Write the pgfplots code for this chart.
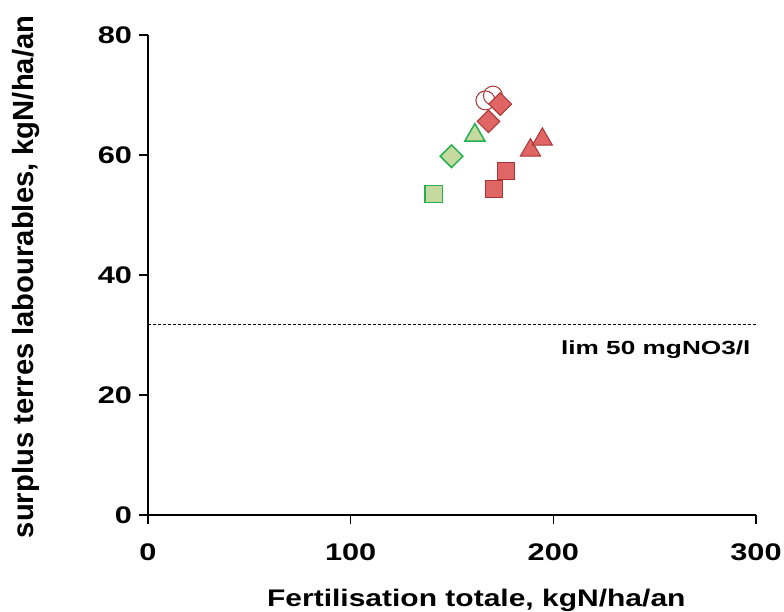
\documentclass[border=0pt]{standalone}
\usepackage{fontspec}
\setmainfont{Liberation Sans}
\usepackage{pgfplots}
\pgfplotsset{compat=1.18}
\definecolor{redfill}{RGB}{224,102,102}
\definecolor{rededge}{RGB}{168,52,52}
\definecolor{greenfill}{RGB}{198,217,158}
\definecolor{greenedge}{RGB}{36,176,80}
\newcommand{\hs}[1]{\scalebox{1.28}[1]{#1}}
\begin{document}
\begin{tikzpicture}
\begin{axis}[
  scale only axis,
  width=304pt, height=240pt,
  xmin=0, xmax=300, ymin=0, ymax=80,
  xtick={0,100,200,300}, ytick={0,20,40,60,80},
  axis lines*=left,
  axis line style={line width=0.65pt},
  tick style={line width=0.65pt, black},
  tick align=outside,
  major tick length=4.5pt,
  xtick pos=left, ytick pos=left,
  /pgf/number format/assume math mode=true,
  ticklabel style={font=\fontsize{12}{14}\selectfont\bfseries},
  xticklabel style={yshift=-6.5pt},
  xticklabel={\hs{\pgfmathprintnumber{\tick}}},
  yticklabel={\hs{\pgfmathprintnumber{\tick}}},
  xlabel={\scalebox{1.25}[1]{Fertilisation totale, kgN/ha/an}},
  ylabel={surplus terres labourables, kgN/ha/an},
  xlabel style={font=\fontsize{12}{14}\selectfont\bfseries,
    at={(axis description cs:0.54,0)}, anchor=base, yshift=-45.5pt},
  ylabel style={font=\fontsize{14.6}{16}\selectfont\bfseries,
    at={(axis description cs:-0.188,0.496)}, anchor=base},
  clip=false,
]
\coordinate (O) at (axis cs:0,0);
% limite
\addplot[black, line width=0.5pt, dash pattern=on 1.5pt off 1pt] coordinates {(0,31.8) (300,31.8)};
\node[anchor=base east, font=\fontsize{9.5}{11}\selectfont\bfseries, inner sep=0pt]
  at (axis cs:297.5,26.7) {\scalebox{1.38}[1]{lim 50 mgNO3/l}};
% cercles vides
\addplot[only marks, mark=o, mark size=4.75pt, mark options={draw=rededge, line width=0.5pt, fill=white, fill opacity=0}] coordinates {(166.5,69.1) (170.2,69.9)};
% verts
\addplot[only marks, mark=square*, mark size=4.3pt, mark options={draw=greenedge, fill=greenfill, line width=0.75pt}] coordinates {(141.0,53.5)};
\addplot[only marks, mark=square*, mark size=4.0pt, mark options={draw=greenedge, fill=greenfill, line width=0.75pt, rotate=45}] coordinates {(149.8,59.8)};
\addplot[only marks, mark=triangle*, mark size=5.8pt, mark options={draw=greenedge, fill=greenfill, line width=0.75pt}] coordinates {(161.3,63.3)};
% rouges
\addplot[only marks, mark=square*, mark size=4.0pt, mark options={draw=rededge, fill=redfill, line width=0.5pt, rotate=45}] coordinates {(173.8,68.5) (168.0,65.6)};
\addplot[only marks, mark=triangle*, mark size=5.8pt, mark options={draw=rededge, fill=redfill, line width=0.5pt}] coordinates {(188.7,60.8) (194.6,62.6)};
\addplot[only marks, mark=square*, mark size=4.3pt, mark options={draw=rededge, fill=redfill, line width=0.5pt}] coordinates {(176.8,57.3) (170.6,54.3)};
\end{axis}
\pgfresetboundingbox
\useasboundingbox (O) ++(-74pt,-48.5pt) rectangle ++(392pt,306pt);
\end{tikzpicture}
\end{document}
